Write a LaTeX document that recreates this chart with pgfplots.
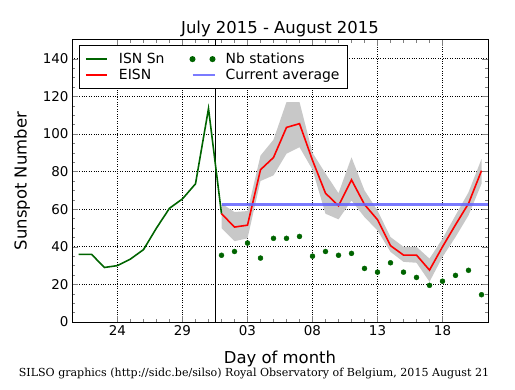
\documentclass[border=0pt]{standalone}
\usepackage{fontspec}
\setmainfont{DejaVu Sans}
\newfontfamily\footfont{DejaVu Serif}
\usepackage{pgfplots}
\usepackage{pgfplotstable}
\pgfplotsset{compat=1.18}
\definecolor{isngreen}{RGB}{0,100,0}
\definecolor{bandgray}{RGB}{200,200,200}
\definecolor{avgblue}{RGB}{100,100,255}

\pgfplotstableread{
t v
21 36
22 36
23 29
24 30
25 33.5
26 38.5
27 50
28 60.5
29 65.5
30 73.5
31 113.5
32 57.6
}\isn

\pgfplotstableread{
t eisn nb
32 57.6 35.5
33 50.5 37.5
34 51.5 42
35 81 34
36 87.5 44.5
37 103.5 44.5
38 105.5 45.5
39 86 35
40 68.5 37.5
41 61.8 35.5
42 75.6 36.5
43 62.5 28.5
44 54.4 26.5
45 40.6 31.5
46 35.6 26.5
47 35.6 23.7
48 27.6 19.5
49 40 21.7
50 51.7 24.8
51 63 27.5
52 80.5 14.5
}\eisn

% band: upper limit forward, then lower limit backward
\pgfplotstableread{
t b
32 63
33 58.5
34 59
35 88.5
36 97
37 117
38 117
39 90
40 79
41 68.5
42 87.6
43 70
44 59.3
45 45.2
46 40
47 40
48 33.7
49 44.3
50 56.7
51 69
52 86.7
52 73.5
51 56.7
50 45.2
49 34.6
48 21.4
47 31.5
46 32
45 37.3
44 48.7
43 55.8
42 64.6
41 54.6
40 57.6
39 81
38 93
37 89.5
36 78
35 75
34 44.5
33 43
32 50
}\band

\begin{document}
\begin{tikzpicture}
\path[use as bounding box] (0,0) rectangle (515bp,390bp);
\begin{axis}[
  at={(72bp,68bp)}, anchor=south west,
  scale only axis, width=416bp, height=282bp,
  xmin=20.5, xmax=52.5, ymin=0, ymax=150,
  xtick={24,29,34,39,44,49}, xticklabels={24,29,03,08,13,18},
  minor x tick num=4,
  ytick={0,20,40,60,80,100,120,140}, minor y tick num=3,
  tick align=inside, tick pos=both,
  major tick length=6bp, minor tick length=3bp,
  grid=major, major grid style={black, dotted, line width=0.7pt},
  axis line style={black, line width=1pt},
  /pgf/number format/assume math mode=true,
  tick label style={font=\fontsize{13.5}{15}\selectfont},
  xlabel={Day of month}, ylabel={Sunspot Number},
  xlabel style={font=\fontsize{16.5}{19}\selectfont, at={(axis description cs:0.5,-0.131)}, anchor=center},
  ylabel style={font=\fontsize{16.5}{19}\selectfont, at={(axis description cs:-0.12,0.5)}, anchor=center},
  title={July 2015 - August 2015},
  title style={at={(axis description cs:0.5,1.019)}, anchor=center, yshift=0pt, font=\fontsize{16.5}{19}\selectfont},
  legend columns=2,
  legend style={at={(axis description cs:0.0161,0.982)}, anchor=north west,
    draw=black, line width=1pt, fill=white, font=\fontsize{14}{16}\selectfont,
    inner xsep=6bp, inner ysep=5.5bp,
    /tikz/every even column/.append style={column sep=23bp}},
  legend cell align=left,
]
\addplot[fill=bandgray, draw=none, forget plot] table[x=t, y=b] {\band} -- cycle;
\addplot[black, line width=1pt, forget plot] coordinates {(31.5,0) (31.5,150)};
\addplot[isngreen, line width=1.6pt,
  legend image code/.code={\draw[isngreen, line width=1.6pt] (0bp,0bp) -- (20.7bp,0bp); \path[draw=none, fill=none] (0bp,0bp) -- (31bp,0bp);}] table[x=t, y=v] {\isn};
\addlegendentry{ISN Sn}
\addplot[only marks, mark=*, mark size=2.5bp, isngreen,
  legend image code/.code={\fill[isngreen] (2.5bp,0bp) circle (2.5bp); \fill[isngreen] (22.5bp,0bp) circle (2.5bp); \path[draw=none, fill=none] (0bp,0bp) -- (33.6bp,0bp);}] table[x=t, y=nb] {\eisn};
\addlegendentry{Nb stations}
\addplot[red, line width=1.6pt,
  legend image code/.code={\draw[red, line width=1.6pt] (0bp,0bp) -- (20.7bp,0bp); \path[draw=none, fill=none] (0bp,0bp) -- (31bp,0bp);}] table[x=t, y=eisn] {\eisn};
\addlegendentry{EISN}
\addplot[avgblue, opacity=0.85, line width=2.6pt,
  legend image code/.code={\draw[avgblue, opacity=0.85, line width=2.6pt] (2.5bp,0bp) -- (24.5bp,0bp); \path[draw=none, fill=none] (0bp,0bp) -- (33.6bp,0bp);}] coordinates {(32,62.5) (52.5,62.5)};
\addlegendentry{Current average}
\end{axis}
\node[font=\footfont\fontsize{11.1}{13}\selectfont] at (254bp,16bp) {SILSO graphics (http://sidc.be/silso) Royal Observatory of Belgium, 2015 August 21};
\end{tikzpicture}
\end{document}
